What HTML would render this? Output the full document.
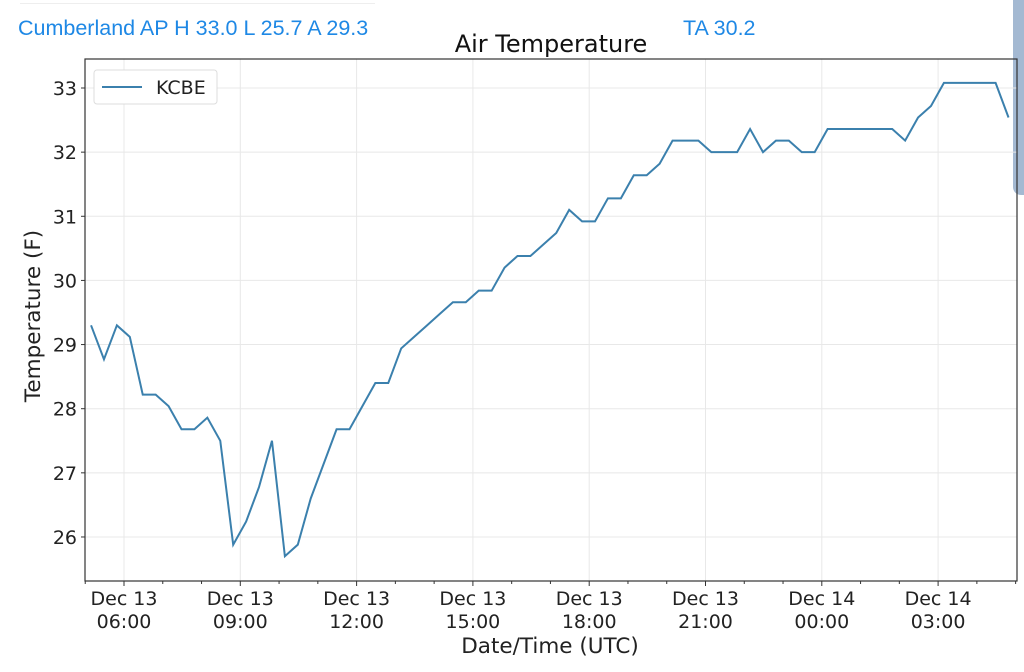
<!DOCTYPE html>
<html><head><meta charset="utf-8"><style>
body{margin:0;background:#fff;width:1024px;height:672px;overflow:hidden;position:relative;font-family:"DejaVu Sans","Liberation Sans",sans-serif}
.hdr{position:absolute;top:16px;font:21.5px "Liberation Sans",sans-serif;color:#1e88e5}
</style></head><body>
<div style="position:absolute;left:20px;top:3px;width:355px;height:1px;background:#eee"></div>
<div class="hdr" style="left:18px">Cumberland AP H 33.0 L 25.7 A 29.3</div>
<div class="hdr" style="left:683px">TA 30.2</div>
<div style="position:absolute;left:1013px;top:0;width:11px;height:195px;background:#a4b9d2;border-radius:0 0 0 8px"></div>
<svg id="chart" width="1024" height="672" style="position:absolute;left:0;top:0"></svg>
<script>
const times=[-51,-31,-11,9,29,49,69,89,109,129,149,169,189,209,229,249,269,289,309,329,349,369,389,409,429,449,469,489,509,529,549,569,589,609,629,649,669,689,709,729,749,769,789,809,829,849,869,889,909,929,949,969,989,1009,1029,1049,1069,1089,1109,1129,1149,1169,1189,1209,1229,1249,1269,1289,1309,1329,1349,1369];
const temps=[29.3,28.77,29.3,29.12,28.22,28.22,28.04,27.68,27.68,27.86,27.5,25.88,26.24,26.78,27.5,25.7,25.88,26.6,27.14,27.68,27.68,28.04,28.4,28.4,28.94,29.12,29.3,29.48,29.66,29.66,29.84,29.84,30.2,30.38,30.38,30.56,30.74,31.1,30.92,30.92,31.28,31.28,31.64,31.64,31.82,32.18,32.18,32.18,32.0,32.0,32.0,32.36,32.0,32.18,32.18,32.0,32.0,32.36,32.36,32.36,32.36,32.36,32.36,32.18,32.54,32.72,33.08,33.08,33.08,33.08,33.08,32.54];
const yTicks=[26,27,28,29,30,31,32,33];
const xTickMins=[0,180,360,540,720,900,1080,1260];
const xTickDates=["Dec 13","Dec 13","Dec 13","Dec 13","Dec 13","Dec 13","Dec 14","Dec 14"];
const xTickTimes=["06:00","09:00","12:00","15:00","18:00","21:00","00:00","03:00"];
const L=85,R=1017,T=59,B=581;
const X=m=>124+m*116.3/180;
const Y=v=>88+(33-v)*64.14;
const svg=document.getElementById('chart');const NS='http://www.w3.org/2000/svg';
function mk(tag,attrs,parent){const e=document.createElementNS(NS,tag);for(const k in attrs)e.setAttribute(k,attrs[k]);(parent||svg).appendChild(e);return e;}
yTicks.forEach(v=>{
 const g=mk('line',{x1:L,x2:R,y1:Y(v),y2:Y(v),stroke:'#e8e8e8','stroke-width':1});
 
 
 mk('line',{x1:L-4,x2:L,y1:Y(v),y2:Y(v),stroke:'#333'});
 const t=mk('text',{x:L-8,y:Y(v)+7,'text-anchor':'end','font-size':19,fill:'#222'});t.textContent=v;
 
 
});
for(let m=-60;m<=1380;m+=60){const x=X(m);if(x<L||x>R)continue;
 if(m%180===0){const g=mk('line',{x1:x,x2:x,y1:T,y2:B,stroke:'#e8e8e8'});
 
 }
 mk('line',{x1:x,x2:x,y1:B,y2:B+(m%180===0?5:3),stroke:'#333'});}
xTickMins.forEach((m,i)=>{
 const t=mk('text',{x:X(m),y:605,'text-anchor':'middle','font-size':19,fill:'#222'});t.textContent=xTickDates[i];
 
 
 const t2=mk('text',{x:X(m),y:628,'text-anchor':'middle','font-size':19,fill:'#222'});t2.textContent=xTickTimes[i];
 
 
});
const fr=mk('rect',{x:L,y:T,width:R-L,height:B-T,fill:'none',stroke:'#333','stroke-width':1.2});


const pl=mk('polyline',{points:times.map((m,i)=>X(m)+','+Y(temps[i])).join(' '),fill:'none',stroke:'#3b80ad','stroke-width':2,'stroke-linejoin':'miter'});


const lg=mk('rect',{x:94,y:70,width:123,height:34,rx:3,fill:'#fff',stroke:'#ddd'});


mk('line',{x1:102,x2:142,y1:87,y2:87,stroke:'#3b80ad','stroke-width':2});
const lt=mk('text',{x:156,y:94,'font-size':19,fill:'#222'});lt.textContent='KCBE';


const ti=mk('text',{x:551,y:52,'text-anchor':'middle','font-size':24,fill:'#111'});ti.textContent='Air Temperature';


const xl=mk('text',{x:550,y:653,'text-anchor':'middle','font-size':21.5,fill:'#222'});xl.textContent='Date/Time (UTC)';


const yl=mk('text',{x:0,y:0,'text-anchor':'middle','font-size':21.5,fill:'#222',transform:'translate(40,316) rotate(-90)'});yl.textContent='Temperature (F)';


</script>
</body></html>
